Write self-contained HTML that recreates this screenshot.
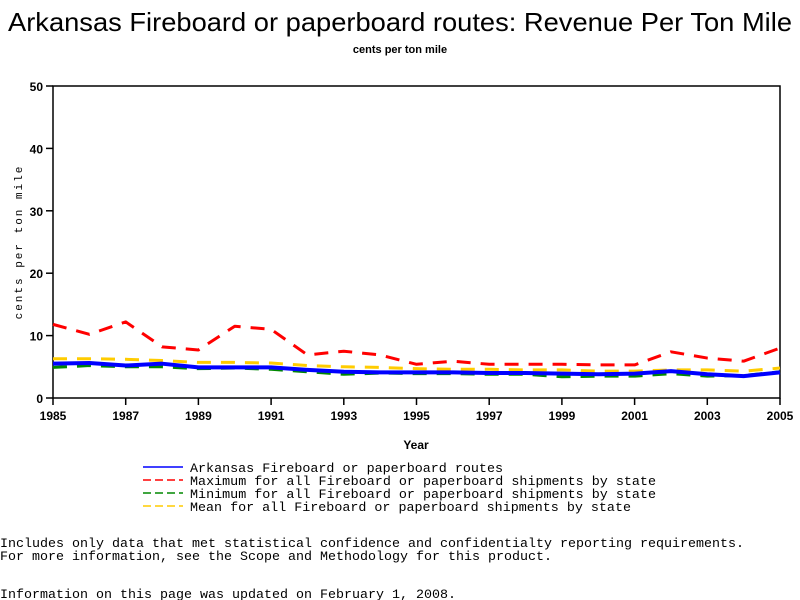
<!DOCTYPE html>
<html><head><meta charset="utf-8"><style>
body{margin:0;background:#fff;width:800px;height:600px;overflow:hidden}
svg{display:block}
.m{font-family:"Liberation Mono",monospace;font-size:13px;fill:#000}
.b{font-family:"Liberation Sans",sans-serif;font-weight:bold;font-size:12px;fill:#000}
</style></head><body>
<svg id="c" width="800" height="600">
<text x="8" y="31" textLength="784" lengthAdjust="spacingAndGlyphs" style="font-family:'Liberation Sans',sans-serif;font-size:26px">Arkansas Fireboard or paperboard routes: Revenue Per Ton Mile</text>
<text x="400" y="53" text-anchor="middle" class="b" style="font-size:11px">cents per ton mile</text>
<rect x="53" y="86" width="727" height="312" fill="none" stroke="#000" stroke-width="1.5"/>
<g id="ax"></g>
<g id="series"></g>
<text x="416" y="449" text-anchor="middle" class="b">Year</text>
<text transform="translate(22,242) rotate(-90)" text-anchor="middle" class="m" style="font-size:11px;letter-spacing:2px">cents per ton mile</text>
<g>
<line x1="143" y1="467" x2="183" y2="467" stroke="#00f" stroke-width="1.5"/>
<text x="190" y="472" class="m" textLength="313" lengthAdjust="spacingAndGlyphs">Arkansas Fireboard or paperboard routes</text>
<line x1="143" y1="480" x2="183" y2="480" stroke="#f00" stroke-width="1.5" stroke-dasharray="8,4"/>
<text x="190" y="485" class="m" textLength="466" lengthAdjust="spacingAndGlyphs">Maximum for all Fireboard or paperboard shipments by state</text>
<line x1="143" y1="493" x2="183" y2="493" stroke="#080" stroke-width="1.5" stroke-dasharray="8,4"/>
<text x="190" y="498" class="m" textLength="466" lengthAdjust="spacingAndGlyphs">Minimum for all Fireboard or paperboard shipments by state</text>
<line x1="143" y1="506" x2="183" y2="506" stroke="#fc0" stroke-width="1.5" stroke-dasharray="8,4"/>
<text x="190" y="511" class="m" textLength="441" lengthAdjust="spacingAndGlyphs">Mean for all Fireboard or paperboard shipments by state</text>
</g>
<text x="0" y="547" class="m" textLength="744" lengthAdjust="spacingAndGlyphs">Includes only data that met statistical confidence and confidentialty reporting requirements.</text>
<text x="0" y="560" class="m" textLength="552" lengthAdjust="spacingAndGlyphs">For more information, see the Scope and Methodology for this product.</text>
<text x="0" y="598" class="m" textLength="456" lengthAdjust="spacingAndGlyphs">Information on this page was updated on February 1, 2008.</text>
</svg>
<script>
const years=[1985,1986,1987,1988,1989,1990,1991,1992,1993,1994,1995,1996,1997,1998,1999,2000,2001,2002,2003,2004,2005];
const maxVals=[11.8,10.2,12.2,8.2,7.7,11.5,11.0,6.9,7.5,6.9,5.4,5.9,5.4,5.4,5.4,5.3,5.3,7.4,6.4,5.9,8.0];
const meanVals=[6.3,6.3,6.2,6.0,5.7,5.7,5.6,5.2,5.0,4.9,4.7,4.6,4.6,4.5,4.5,4.3,4.3,4.5,4.5,4.3,4.8];
const minVals=[4.9,5.2,5.0,5.0,4.7,4.8,4.6,4.2,3.8,4.0,3.9,3.9,3.8,3.8,3.4,3.5,3.5,3.9,3.5,3.6,4.2];
const arkVals=[5.5,5.6,5.2,5.5,4.9,4.9,4.9,4.5,4.2,4.1,4.1,4.1,4.0,4.0,3.9,3.8,3.9,4.3,3.8,3.5,4.1];
const yTicks=[0,10,20,30,40,50];
const xTicks=[1985,1987,1989,1991,1993,1995,1997,1999,2001,2003,2005];
const NS='http://www.w3.org/2000/svg';
const X=y=>53+(y-1985)*(727/20);
const Y=v=>398-v*6.24;
const ax=document.getElementById('ax');
function mk(t,a,p){const e=document.createElementNS(NS,t);for(const k in a)e.setAttribute(k,a[k]);p.appendChild(e);return e;}
yTicks.forEach(v=>{
 const l=mk('line',{x1:46,x2:53,y1:Y(v),y2:Y(v),stroke:'#000','stroke-width':1.5},ax);
 
 
 const t=mk('text',{x:43,y:Y(v)+5,'text-anchor':'end',class:'b'},ax);t.textContent=v;
 
 
});
xTicks.forEach(v=>{
 const l=mk('line',{x1:X(v),x2:X(v),y1:398,y2:405,stroke:'#000','stroke-width':1.5},ax);
 
 
 const t=mk('text',{x:X(v),y:420,'text-anchor':'middle',class:'b'},ax);t.textContent=v;
 
 
});
const sg=document.getElementById('series');
function line(vals,color,w,dash,name){
 const p=mk('polyline',{points:vals.map((v,i)=>X(years[i])+','+Y(v)).join(' '),fill:'none',stroke:color,'stroke-width':w,'stroke-dasharray':dash||'none','stroke-linejoin':'round'},sg);
 
 
}
line(maxVals,'#f00',3,'14,10','max-line');
line(meanVals,'#fc0',3,'14,10','mean-line');
line(minVals,'#080',3,'14,10','min-line');
line(arkVals,'#00f',4,null,'arkansas-line');
</script>
</body></html>
